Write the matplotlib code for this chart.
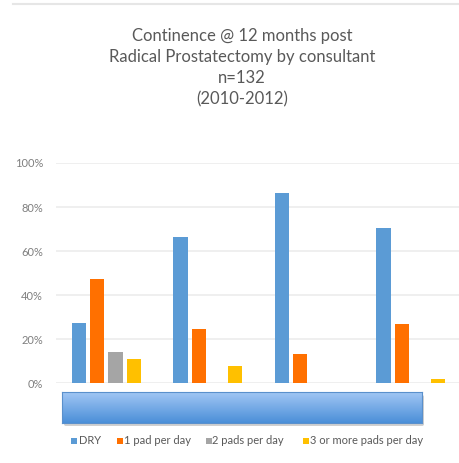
import matplotlib
matplotlib.use("Agg")
import matplotlib.pyplot as plt
import numpy as np
from matplotlib.patches import FancyBboxPatch, Rectangle
from matplotlib.lines import Line2D
from matplotlib.colors import LinearSegmentedColormap

plt.rcParams['font.family'] = ['Lato', 'DejaVu Sans']

consultants = ["A", "B", "C", "D"]
series = ["DRY", "1 pad per day", "2 pads per day", "3 or more pads per day"]
dry = [27.4, 66.2, 86.2, 70.6]
one_pad = [47.1, 24.5, 13.2, 26.8]
two_pads = [13.9, 0, 0, 0]
three_plus = [11.0, 7.9, 0, 2.0]
colors = ["#5b9bd5", "#ff7000", "#a5a5a5", "#ffc000"]
title_lines = ["Continence @ 12 months post", "Radical Prostatectomy by consultant", "n=132", "(2010-2012)"]
yticks = [0, 20, 40, 60, 80, 100]

W, H = 460, 463
fig = plt.figure(figsize=(W/100, H/100), dpi=100)
fig.patch.set_facecolor("white")

def fx(px): return px / W
def fy(py): return 1 - py / H

ax = fig.add_axes([fx(55.6), fy(383), fx(461.7) - fx(55.6), fy(163) - fy(383)])
x = np.arange(len(consultants))
step, width = 0.18, 0.14
for i, (vals, c) in enumerate(zip([dry, one_pad, two_pads, three_plus], colors)):
    ax.bar(x + (i - 1.5) * step, vals, width, color=c, zorder=3)
ax.set_xlim(-0.5, 3.5)
ax.set_ylim(0, 100)
ax.set_yticks(yticks)
ax.set_yticklabels([f"{v}%" for v in yticks], fontsize=8, color="#7f7f7f")
ax.set_xticks([])
ax.tick_params(axis='y', length=0, pad=9)
for s in ax.spines.values():
    s.set_visible(False)
ax.grid(axis='y', color="#ececec", linewidth=1.2, zorder=0)
ax.set_axisbelow(True)

# title
for k, line in enumerate(title_lines):
    fig.text(fx(242), fy(36 + 21 * k), line, ha='center', va='center', fontsize=12, color="#595959")

# top border line
fig.add_artist(Line2D([fx(13), fx(460)], [fy(4), fy(4)], color="#e6e6e6", linewidth=1.5))

# gradient blue box covering category labels
bx0, bx1, by0, by1 = 62, 422, 392, 423
shadow = FancyBboxPatch((fx(bx0 + 2), fy(by1 + 3)), fx(bx1) - fx(bx0), fy(by0) - fy(by1),
                        boxstyle="round,pad=0,rounding_size=0.004", transform=fig.transFigure,
                        facecolor="#d0d0d0", edgecolor="none", zorder=-1)
fig.add_artist(shadow)
bax = fig.add_axes([fx(bx0), fy(by1), fx(bx1) - fx(bx0), fy(by0) - fy(by1)], zorder=2)
grad = np.linspace(0, 1, 100).reshape(-1, 1)
cmap = LinearSegmentedColormap.from_list("g", ["#a4c8f5", "#4b8fd8"])
bax.imshow(grad, aspect='auto', cmap=cmap, extent=[0, 1, 0, 1], origin='upper')
bax.set_xticks([]); bax.set_yticks([])
for s in bax.spines.values():
    s.set_color("#5a90cc"); s.set_linewidth(0.8)

# legend
leg_sq = [71, 117, 206, 303]
leg_tx = [79, 124, 212, 310]
ly = 441
for sx, tx, c, lab in zip(leg_sq, leg_tx, colors, series):
    fig.add_artist(Rectangle((fx(sx), fy(ly + 3)), fx(6), fy(0) - fy(6),
                             transform=fig.transFigure, facecolor=c, edgecolor='none'))
    fig.text(fx(tx), fy(ly), lab, ha='left', va='center', fontsize=8, color="#595959")

fig.savefig("out.png", dpi=100, facecolor="white")
